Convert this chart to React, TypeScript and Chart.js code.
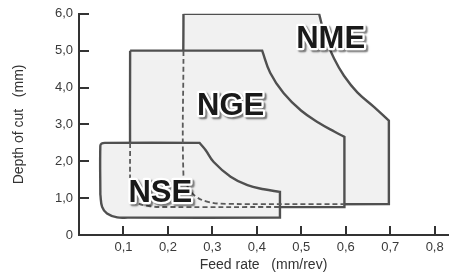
import React, { useEffect, useRef } from 'react';
import { Chart, registerables } from 'chart.js';

Chart.register(...registerables);

const FONT = '"Liberation Sans", Arial, Helvetica, sans-serif';

const xTicks = [0.1, 0.2, 0.3, 0.4, 0.5, 0.6, 0.7, 0.8];
const xTickLabels = ['0,1', '0,2', '0,3', '0,4', '0,5', '0,6', '0,7', '0,8'];
const yTicks = [0, 1, 2, 3, 4, 5, 6];
const yTickLabels = ['0', '1,0', '2,0', '3,0', '4,0', '5,0', '6,0'];

// outlines: [feed, depth, sharpCorner]
const nmeOutline = [
  [0.235, 6.0],
  [0.540, 6.0, 1],
  [0.555, 5.32], [0.574, 4.78], [0.596, 4.32], [0.626, 3.87], [0.664, 3.47],
  [0.697, 3.1, 1],
  [0.697, 0.84, 1],
  [0.33, 0.84], [0.29, 0.9], [0.262, 1.05], [0.245, 1.3], [0.235, 1.6],
  [0.235, 6.0],
];
const ngeOutline = [
  [0.115, 5.0],
  [0.412, 5.0, 1],
  [0.43, 4.4], [0.46, 3.85], [0.5, 3.37], [0.54, 3.04], [0.575, 2.8],
  [0.597, 2.66, 1],
  [0.597, 0.76, 1],
  [0.2, 0.76], [0.16, 0.78], [0.13, 0.88], [0.117, 1.1], [0.115, 1.45],
  [0.115, 5.0],
];
const nseOutline = [
  [0.048, 1.1],
  [0.048, 2.42], [0.051, 2.48], [0.058, 2.5],
  [0.271, 2.5, 1],
  [0.285, 2.3], [0.303, 1.98], [0.341, 1.58], [0.379, 1.35], [0.416, 1.24],
  [0.452, 1.17, 1],
  [0.452, 0.47, 1],
  [0.11, 0.47], [0.086, 0.478], [0.063, 0.586], [0.052, 0.765],
  [0.048, 1.1],
];
// hidden edges (dashed)
const nmeHidden = [
  [0.235, 5.0], [0.235, 1.6], [0.245, 1.3], [0.262, 1.05], [0.29, 0.9], [0.33, 0.845], [0.597, 0.84],
];
const ngeHidden = [
  [0.115, 2.5], [0.115, 1.45], [0.117, 1.1], [0.13, 0.88], [0.16, 0.78], [0.2, 0.76], [0.452, 0.76],
];

const regionNames = ['NME', 'NGE', 'NSE'];
const regionLabelX = [0.566, 0.341, 0.183];
const regionLabelY = [5.3, 3.49, 1.14];

const FILL = '#f1f1f1';
const EDGE = '#505050';
const DASH = '#5a5a5a';

function toPoints(arr: number[][]) {
  const pts: { x: number; y: number }[] = [];
  for (const [x, y, c] of arr) {
    pts.push({ x, y });
    if (c) pts.push({ x, y });
  }
  return pts;
}

const tickPlugin = {
  id: 'inwardTicks',
  afterDraw(chart: any) {
    const { ctx, scales } = chart;
    const x = scales.x, y = scales.y;
    ctx.save();
    ctx.strokeStyle = '#333';
    ctx.lineWidth = 2;
    ctx.beginPath();
    const bottom = y.getPixelForValue(0);
    const left = x.getPixelForValue(0);
    xTicks.forEach((v) => {
      const px = Math.round(x.getPixelForValue(v));
      ctx.moveTo(px, bottom);
      ctx.lineTo(px, bottom - 9);
    });
    yTicks.slice(1).forEach((v) => {
      const py = Math.round(y.getPixelForValue(v));
      ctx.moveTo(left, py);
      ctx.lineTo(left + 10, py);
    });
    ctx.stroke();
    ctx.restore();
  },
};

const labelPlugin = {
  id: 'regionLabels',
  afterDatasetsDraw(chart: any) {
    const { ctx, scales } = chart;
    const x = scales.x, y = scales.y;
    ctx.save();
    ctx.font = `bold 31px ${FONT}`;
    ctx.textAlign = 'center';
    ctx.textBaseline = 'middle';
    ctx.lineJoin = 'round';
    regionNames.forEach((t, i) => {
      const px = x.getPixelForValue(regionLabelX[i]);
      const py = y.getPixelForValue(regionLabelY[i]);
      ctx.shadowColor = 'rgba(0,0,0,0.5)';
      ctx.shadowOffsetX = 2;
      ctx.shadowOffsetY = 2;
      ctx.shadowBlur = 1.5;
      ctx.strokeStyle = '#ffffff';
      ctx.lineWidth = 4.5;
      ctx.strokeText(t, px, py);
      ctx.shadowColor = 'transparent';
      ctx.fillStyle = '#1a1a1a';
      ctx.fillText(t, px, py);
    });
    ctx.restore();
  },
};

export default function App() {
  const ref = useRef<HTMLCanvasElement | null>(null);
  useEffect(() => {
    if (!ref.current) return;
    Chart.defaults.font.family = FONT;
    const shape = (data: number[][], order: number) => ({
      data: toPoints(data),
      showLine: true,
      fill: 'shape',
      backgroundColor: FILL,
      borderColor: EDGE,
      borderWidth: 2.4,
      tension: 0.4,
      pointRadius: 0,
      order,
    });
    const hidden = (data: number[][], order: number) => ({
      data: toPoints(data),
      showLine: true,
      fill: false,
      borderColor: DASH,
      borderWidth: 1.8,
      borderDash: [5, 3],
      tension: 0.4,
      pointRadius: 0,
      order,
    });
    const chart = new Chart(ref.current, {
      type: 'scatter',
      data: {
        datasets: [
          shape(nmeOutline, 6),
          shape(ngeOutline, 5),
          shape(nseOutline, 4),
          hidden(nmeHidden, 2),
          hidden(ngeHidden, 1),
        ] as any,
      },
      options: {
        animation: false,
        responsive: true,
        maintainAspectRatio: false,
        devicePixelRatio: 1,
        layout: { padding: { top: 13, right: 1, left: 0, bottom: 0 } },
        plugins: { legend: { display: false }, tooltip: { enabled: false } },
        events: [],
        scales: {
          x: {
            type: 'linear',
            min: 0,
            max: 0.83,
            afterBuildTicks: (s: any) => {
              s.ticks = xTicks.map((v) => ({ value: v }));
            },
            afterFit: (s: any) => {
              s.height = 42;
            },
            grid: { display: false, drawTicks: false, tickLength: 0 },
            border: { display: true, color: '#333', width: 2 },
            ticks: {
              padding: 5,
              color: '#3a3a3a',
              font: { size: 13, family: FONT },
              maxRotation: 0,
              autoSkip: false,
              callback: (_v: any, i: number) => xTickLabels[i],
            },
            title: {
              display: true,
              text: 'Feed rate   (mm/rev)',
              color: '#333',
              font: { size: 14, family: FONT },
              padding: { top: 0, bottom: 3 },
            },
          },
          y: {
            type: 'linear',
            min: 0,
            max: 6,
            afterBuildTicks: (s: any) => {
              s.ticks = yTicks.map((v) => ({ value: v }));
            },
            afterFit: (s: any) => {
              s.width = 79;
            },
            grid: { display: false, drawTicks: false, tickLength: 0 },
            border: { display: true, color: '#333', width: 2 },
            ticks: {
              padding: 6,
              color: '#3a3a3a',
              font: { size: 13, family: FONT },
              autoSkip: false,
              callback: (_v: any, i: number) => yTickLabels[i],
            },
            title: {
              display: true,
              text: 'Depth of cut   (mm)',
              color: '#333',
              font: { size: 14, family: FONT },
              padding: { top: 10.5, bottom: 0 },
            },
          },
        },
      } as any,
      plugins: [labelPlugin, tickPlugin],
    });
    return () => chart.destroy();
  }, []);
  return (
    <div style={{ position: 'absolute', left: 0, top: 0, width: 449, height: 277 }}>
      <canvas ref={ref} />
    </div>
  );
}
